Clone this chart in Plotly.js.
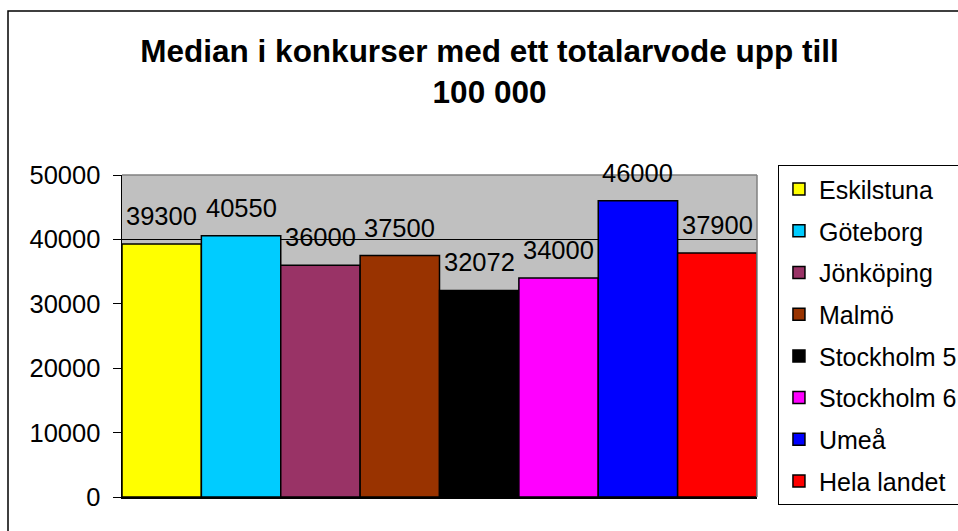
<!DOCTYPE html>
<html>
<head>
<meta charset="utf-8">
<script src="https://cdn.plot.ly/plotly-3.0.1.min.js"></script>
<style>html,body{margin:0;padding:0;background:#fff;}#chart{width:958px;height:531px;}</style>
</head>
<body>
<div id="chart"></div>
<script>
const categories = ["Eskilstuna", "Göteborg", "Jönköping", "Malmö", "Stockholm 5", "Stockholm 6", "Umeå", "Hela landet"];
const values = [39300, 40550, 36000, 37500, 32072, 34000, 46000, 37900];
const colors = ["#FFFF00", "#00CCFF", "#993366", "#993300", "#000000", "#FF00FF", "#0000FF", "#FF0000"];
const yTicks = [0, 10000, 20000, 30000, 40000, 50000];
const titleText = "Median i konkurser med ett totalarvode upp till<br>100 000";

const FONT = '"Liberation Sans", Arial, Helvetica, sans-serif';

const traces = categories.map((c, i) => ({
  type: 'bar',
  name: c,
  x: [c],
  y: [values[i]],
  legendgroup: 'g' + i,
  marker: { color: colors[i], line: { color: '#000000', width: 1.5 } },
  hoverinfo: 'skip'
}));

const annotations = categories.map((c, i) => ({
  x: c, y: values[i], xref: 'x', yref: 'y',
  text: String(values[i]),
  showarrow: false,
  yanchor: 'bottom', xanchor: 'center',
  yshift: 12,
  font: { family: FONT, size: 25.5, color: '#000' }
}));

const layout = {
  width: 958, height: 531,
  margin: { l: 122, r: 201, t: 175, b: 34, pad: 0, autoexpand: false },
  paper_bgcolor: '#FFFFFF',
  plot_bgcolor: '#C0C0C0',
  font: { family: FONT, size: 24, color: '#000' },
  title: {
    text: titleText,
    font: { family: FONT, size: 31.5, color: '#000', weight: 'bold' },
    x: 0.511, xanchor: 'center',
    y: 1 - 62 / 531, yanchor: 'middle', yref: 'container'
  },
  barmode: 'overlay',
  bargap: 0,
  showlegend: true,
  legend: {
    x: 1.033, xanchor: 'left', y: 1.03, yanchor: 'top',
    bgcolor: '#FFFFFF', bordercolor: '#000000', borderwidth: 1,
    font: { family: FONT, size: 25, color: '#000' },
    traceorder: 'grouped', tracegroupgap: 6.2,
    itemwidth: 30, maxheight: 420
  },
  xaxis: {
    type: 'category',
    categoryorder: 'array', categoryarray: categories,
    range: [-0.5, categories.length - 0.5],
    showticklabels: false, ticks: '',
    showgrid: false, zeroline: false,
    showline: true, linecolor: '#000', linewidth: 1.5,
    fixedrange: true
  },
  yaxis: {
    range: [0, 50000],
    tickvals: yTicks,
    ticktext: yTicks.map(String),
    ticks: 'outside', ticklen: 8, tickcolor: '#000', tickwidth: 1,
    ticklabelstandoff: 7,
    showgrid: true, gridcolor: '#000', gridwidth: 1,
    zeroline: false,
    showline: true, linecolor: '#000', linewidth: 1.5,
    tickfont: { family: FONT, size: 25.5, color: '#000' },
    fixedrange: true
  },
  annotations: annotations,
  shapes: [
    { type: 'line', xref: 'paper', yref: 'paper', x0: 0, x1: 1, y0: 1, y1: 1, line: { color: '#808080', width: 1.5 }, layer: 'above' },
    { type: 'line', xref: 'paper', yref: 'paper', x0: 1, x1: 1, y0: 0, y1: 1, line: { color: '#808080', width: 1.5 }, layer: 'above' },
    { type: 'rect', xref: 'paper', yref: 'paper', x0: (8 - 122) / 635, x1: (990 - 122) / 635, y0: (497 - 560) / 322, y1: (497 - 11) / 322, line: { color: '#000', width: 1.5 }, fillcolor: 'rgba(0,0,0,0)', layer: 'above' }
  ]
};

Plotly.newPlot('chart', traces, layout, { staticPlot: true, displayModeBar: false });
</script>
</body>
</html>
